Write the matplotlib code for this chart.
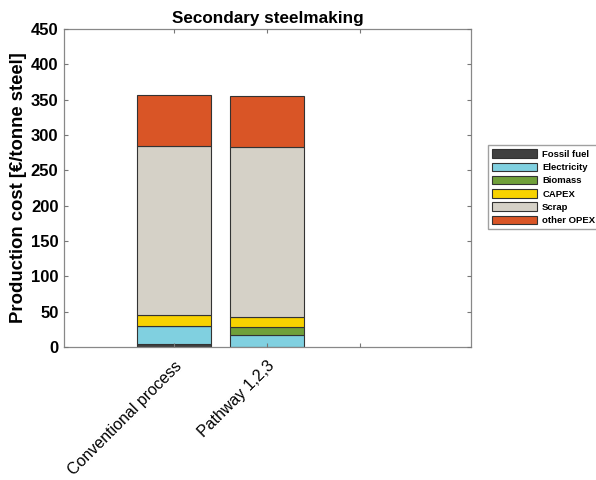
import matplotlib
matplotlib.use("Agg")
import matplotlib.pyplot as plt
import matplotlib.transforms as mtransforms
import numpy as np

plt.rcParams['font.family'] = ['Liberation Sans', 'DejaVu Sans']

categories = ["Conventional process", "Pathway 1,2,3", ""]
components = ["Fossil fuel", "Electricity", "Biomass", "CAPEX", "Scrap", "other OPEX"]
fossil_fuel = [5.0, 0.0]
electricity = [25.0, 17.0]
biomass = [0.0, 11.5]
capex = [15.0, 14.7]
scrap = [240.0, 240.5]
other_opex = [71.5, 71.5]
colors = ["#404040", "#80d0e0", "#70a03a", "#f8d200", "#d5d1c7", "#d95526"]

series = [fossil_fuel, electricity, biomass, capex, scrap, other_opex]

fig = plt.figure(figsize=(5.96, 4.80), dpi=100)
ax = fig.add_axes([0.1074, 0.277, 0.6829, 0.6626])

x = np.arange(1, len(fossil_fuel) + 1)
bottom = np.zeros(len(x))
handles = []
for name, vals, c in zip(components, series, colors):
    h = ax.bar(x, vals, width=0.8, bottom=bottom, color=c, edgecolor="#333333",
               linewidth=0.8, label=name)
    handles.append(h)
    bottom += np.array(vals)

ax.set_xlim(-0.18, 4.19)
ax.set_ylim(0, 450)
ax.set_xticks(np.arange(1, len(categories) + 1))
ax.set_xticklabels(categories, rotation=45, ha="right", rotation_mode="anchor",
                   fontsize=11.5)
# nudge the rotated category labels slightly to the right
shift = mtransforms.ScaledTranslation(5 / 100, 0, fig.dpi_scale_trans)
for lab in ax.get_xticklabels():
    lab.set_transform(lab.get_transform() + shift)
ax.set_yticks(np.arange(0, 451, 50))
for lab in ax.get_yticklabels():
    lab.set_fontweight("bold")
    lab.set_fontsize(12)
ax.tick_params(direction="in", length=3, color="#777777", top=True, right=True,
               pad=4)
ax.tick_params(axis="x", pad=8)
for s in ax.spines.values():
    s.set_color("#888888")
    s.set_linewidth(0.9)
ax.set_axisbelow(False)

ax.set_ylabel("Production cost [€/tonne steel]", fontsize=13.3, fontweight="bold",
              labelpad=3)
ax.set_title("Secondary steelmaking", fontsize=12.3, fontweight="bold", pad=4)

leg = fig.legend(handles=handles, labels=components, loc="upper left",
                 bbox_to_anchor=(0.819, 0.697), fontsize=6.8, frameon=True,
                 fancybox=False, edgecolor="#888888", handlelength=4.8,
                 handleheight=1.0, labelspacing=0.4, borderpad=0.42,
                 handletextpad=0.5, borderaxespad=0)
for t in leg.get_texts():
    t.set_fontweight("bold")

fig.savefig("out.png", dpi=100)
